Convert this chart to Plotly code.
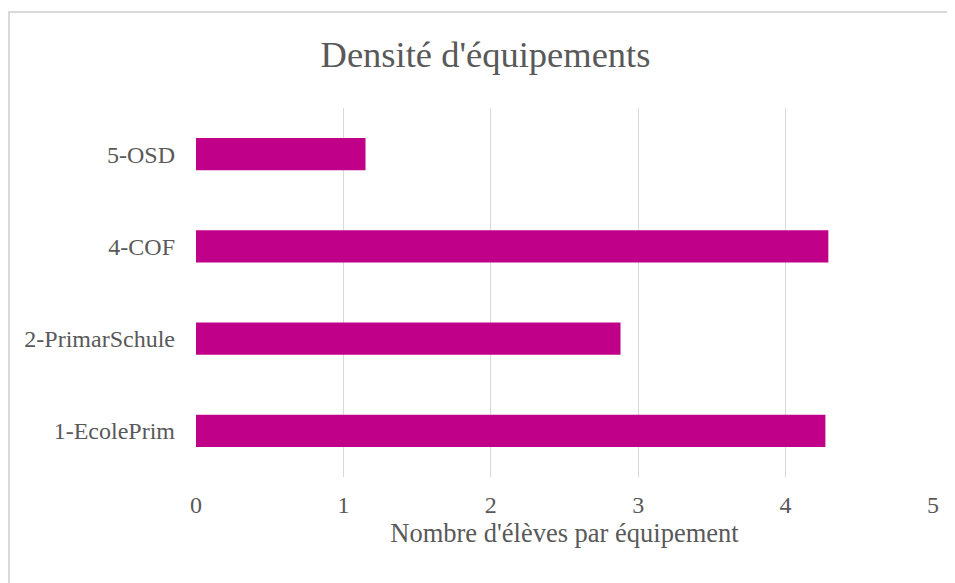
import plotly.graph_objects as go

categories = ["1-EcolePrim", "2-PrimarSchule", "4-COF", "5-OSD"]
values = [4.27, 2.88, 4.29, 1.15]
tick_values = [0, 1, 2, 3, 4, 5]

text_color = "#595959"
font_family = "Liberation Serif"

fig = go.Figure(
    go.Bar(
        x=values,
        y=categories,
        orientation="h",
        marker=dict(color="#C00088", line=dict(width=0))
    )
)

# the page adds an 8px body margin, margins below account for it
fig.update_layout(
    width=955,
    height=583,
    margin=dict(l=188, r=30, t=100, b=114),
    paper_bgcolor="white",
    plot_bgcolor="white",
    bargap=0.65,
    showlegend=False,
    font=dict(family=font_family, color=text_color, size=24),
    title=dict(
        text="Densité d'équipements",
        x=0.5,
        xanchor="center",
        y=0.92,
        yanchor="middle",
        font=dict(family=font_family, size=36.5, color=text_color)
    )
)

fig.update_xaxes(
    range=[0, 5],
    tickvals=tick_values,
    showgrid=True,
    gridcolor="#D9D9D9",
    gridwidth=1,
    zeroline=False,
    showline=False,
    ticks="",
    ticklabelstandoff=11,
    tickfont=dict(family=font_family, size=24, color=text_color),
    title=dict(
        text="Nombre d'élèves par équipement",
        standoff=6,
        font=dict(family=font_family, size=26.5, color=text_color)
    )
)

fig.update_yaxes(
    showgrid=False,
    zeroline=False,
    showline=False,
    ticks="",
    ticklabelstandoff=20,
    tickfont=dict(family=font_family, size=24, color=text_color)
)

# light frame around the chart area, as in the original
fig.add_shape(
    type="rect",
    xref="paper", yref="paper",
    x0=-0.2537, x1=1.2, y0=-0.5, y1=1.2602,
    line=dict(color="#D9D9D9", width=2),
    fillcolor="rgba(0,0,0,0)",
    layer="below"
)

fig.write_html("out.html")
